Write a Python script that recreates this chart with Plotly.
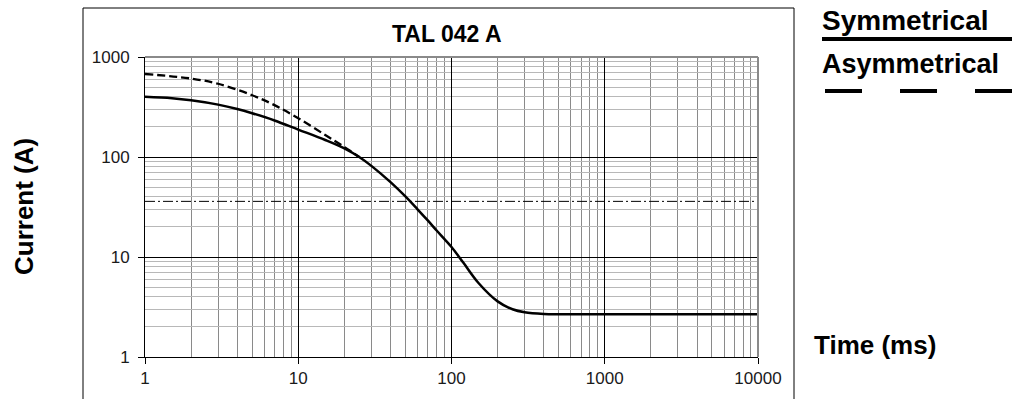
import plotly.graph_objects as go

# time (ms) vs current (A)
sym_time = [1, 1.5, 2, 3, 4, 5, 7, 10, 15, 20, 25, 30, 40, 50, 60, 70, 80, 90, 100, 120, 150, 200, 250, 300, 400, 500, 1000, 10000]
sym_current = [400, 387, 369, 334, 302, 274, 232, 188, 148, 122, 100, 81.5, 56, 40.3, 30, 23.2, 18.4, 15.1, 12.6, 8.7, 5.5, 3.6, 3.0, 2.8, 2.69, 2.67, 2.67, 2.67]

asym_time = [1, 2, 3, 5, 7, 10, 15, 20, 25]
asym_current = [676, 609, 540, 415, 330, 244, 166, 126, 100]

limit_time = [1, 10000]
limit_current = [36, 36]

x_ticks = [1, 10, 100, 1000, 10000]
y_ticks = [1, 10, 100, 1000]

FONT = "Arial, Liberation Sans, sans-serif"

W, H = 1022, 399
L, R, T, B = 145, 758, 57, 357   # plot area in pixels


def px(x):
    return (x - L) / (R - L)


def py(y):
    return (B - y) / (B - T)


fig = go.Figure()

fig.add_trace(go.Scatter(
    x=limit_time, y=limit_current, mode="lines",
    line=dict(color="black", width=1, dash="10px,3px,2px,3px"),
    hoverinfo="skip"))

fig.add_trace(go.Scatter(
    x=asym_time, y=asym_current, mode="lines", line_shape="spline",
    line=dict(color="black", width=2.3, dash="8px,4px"), name="Asymmetrical"))

fig.add_trace(go.Scatter(
    x=sym_time, y=sym_current, mode="lines", line_shape="spline",
    line=dict(color="black", width=2.5), name="Symmetrical"))

fig.update_xaxes(
    type="log", range=[0, 4], tickvals=x_ticks, ticktext=[str(v) for v in x_ticks],
    showline=True, linecolor="black", linewidth=1,
    ticks="outside", ticklen=6, tickcolor="black",
    showgrid=True, gridcolor="black", gridwidth=1,
    minor=dict(dtick="D1", showgrid=True, gridcolor="#8a8a8a", gridwidth=1, ticks=""),
    tickfont=dict(family=FONT, size=17, color="#1a1a1a"),
    zeroline=False)

fig.update_yaxes(
    type="log", range=[0, 3], tickvals=y_ticks, ticktext=[str(v) for v in y_ticks],
    showline=True, linecolor="black", linewidth=1,
    ticks="outside", ticklen=6, tickcolor="black",
    showgrid=True, gridcolor="black", gridwidth=1,
    minor=dict(dtick="D1", showgrid=True, gridcolor="#b8b8b8", gridwidth=1, ticks=""),
    tickfont=dict(family=FONT, size=17, color="#1a1a1a"),
    ticklabelstandoff=5,
    zeroline=False)

shapes = [
    # outer frame round the chart (bottom edge runs off the page)
    dict(type="rect", xref="paper", yref="paper", x0=px(83), x1=px(794), y0=py(430), y1=py(8),
         line=dict(color="black", width=1), layer="below"),
    # grey top and right border of the plot area
    dict(type="line", xref="paper", yref="paper", x0=0, x1=1, y0=1, y1=1,
         line=dict(color="#8a8a8a", width=2), layer="above"),
    dict(type="line", xref="paper", yref="paper", x0=1, x1=1, y0=0, y1=1,
         line=dict(color="#8a8a8a", width=2), layer="above"),
    # legend keys
    dict(type="line", xref="paper", yref="paper", x0=px(822), x1=px(1012), y0=py(39), y1=py(39),
         line=dict(color="black", width=4)),
    dict(type="line", xref="paper", yref="paper", x0=px(825), x1=px(1013), y0=py(91), y1=py(91),
         line=dict(color="black", width=4, dash="37px,38px")),
]

annotations = [
    dict(text="<b>TAL 042 A</b>", x=px(447), y=py(34), xref="paper", yref="paper",
         showarrow=False, xanchor="center", yanchor="middle", font=dict(family=FONT, size=23, color="black")),
    dict(text="<b>Current (A)</b>", x=px(24), y=0.5, xref="paper", yref="paper", textangle=-90,
         showarrow=False, xanchor="center", yanchor="middle", font=dict(family=FONT, size=26, color="black")),
    dict(text="<b>Time (ms)</b>", x=px(812), y=py(345), xref="paper", yref="paper",
         showarrow=False, xanchor="left", yanchor="middle", font=dict(family=FONT, size=26, color="black")),
    dict(text="<b>Symmetrical</b>", x=px(820), y=py(21), xref="paper", yref="paper",
         showarrow=False, xanchor="left", yanchor="middle", font=dict(family=FONT, size=28, color="black")),
    dict(text="<b>Asymmetrical</b>", x=px(820), y=py(64), xref="paper", yref="paper",
         showarrow=False, xanchor="left", yanchor="middle", font=dict(family=FONT, size=27, color="black")),
]

fig.update_layout(
    width=W, height=H,
    margin=dict(l=L, r=W - R, t=T, b=H - B),
    paper_bgcolor="white", plot_bgcolor="white",
    showlegend=False,
    shapes=shapes, annotations=annotations,
    font=dict(family=FONT, color="black"),
)

# drop the browser's default 8px body margin so the figure sits at the corner
fig.write_html("out.html", config={"displayModeBar": False},
               post_script="document.body.style.margin = '0';")
